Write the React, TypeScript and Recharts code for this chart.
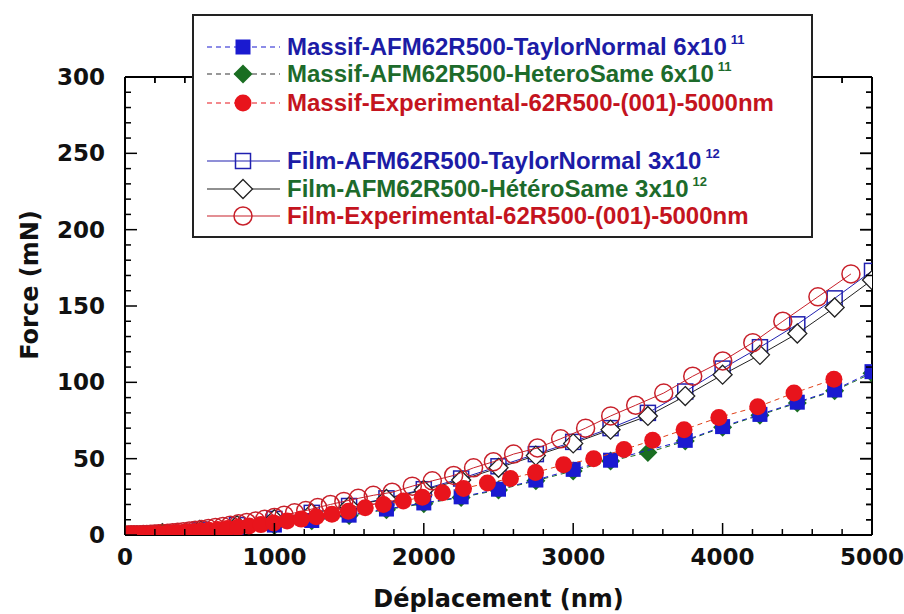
import React from 'react';
import { ScatterChart, Scatter, XAxis, YAxis, ReferenceLine } from 'recharts';

// model points, every 250 nm
const modelX = [0, 250, 500, 750, 1000, 1250, 1500, 1750, 2000, 2250, 2500, 2750, 3000, 3250, 3500, 3750, 4000, 4250, 4500, 4750, 5000];
const massifTaylorF = [0, 0.8, 2.2, 4, 6.5, 9.5, 13, 17, 21, 25, 30, 36, 43, 49, null, 62, 71, 79, 87, 95, 107];
const massifHeteroF = [0, 0.8, 2.1, 3.9, 6.3, 9.3, 12.7, 16.6, 20.5, 24.6, 29.5, 35.5, 42, 48.5, 54, 61.5, 70.5, 78.5, 86.5, 94.5, 106];
const filmTaylorF = [0, 1.2, 3.5, 6.5, 10.5, 14.5, 19, 24, 30, 37, 45, 53, 61, 70, 80, 94, 109, 123, 138, 155, 173];
const filmHeteroF = [0, 1.2, 3.4, 6.4, 10.3, 14.3, 18.7, 23.6, 29.5, 36, 44, 52, 60, 69, 78, 91, 105, 118, 132, 149, 167];

// experimental curves (dense near the origin)
const massifExpX = [0, 10, 22, 36, 52, 70, 90, 112, 136, 162, 190, 220, 253, 288, 325, 365, 408, 455, 505, 560, 620, 685, 755, 830, 910, 995, 1085, 1180, 1280, 1385, 1495, 1608, 1730, 1863, 1990, 2125, 2266, 2426, 2580, 2748, 2936, 3137, 3340, 3532, 3742, 3975, 4235, 4478, 4745];
const massifExpF = [0, 0, 0, 0, 0.1, 0.1, 0.2, 0.2, 0.3, 0.4, 0.5, 0.7, 0.8, 1.0, 1.3, 1.5, 1.8, 2.2, 2.6, 3.1, 3.6, 4.3, 5.0, 5.9, 6.8, 7.9, 9.1, 10.4, 11.9, 13.6, 15.6, 17.8, 20, 22.3, 24.8, 27.6, 30.5, 34, 37, 41, 46, 50, 56, 62, 69, 77, 84, 93, 102];
const filmExpX = [0, 23, 41, 60, 80, 101, 123, 146, 171, 197, 225, 254, 285, 318, 353, 390, 430, 470, 513, 558, 605, 655, 705, 760, 815, 875, 935, 1000, 1065, 1135, 1210, 1290, 1375, 1465, 1561, 1662, 1788, 1923, 2057, 2200, 2333, 2466, 2601, 2761, 2916, 3083, 3251, 3418, 3606, 3800, 4001, 4202, 4403, 4638, 4859];
const filmExpF = [0, 0, 0.1, 0.1, 0.2, 0.2, 0.3, 0.4, 0.5, 0.6, 0.8, 1.0, 1.2, 1.5, 1.8, 2.2, 2.6, 3.1, 3.6, 4.2, 4.9, 5.6, 6.4, 7.3, 8.2, 9.2, 10.3, 11.5, 13, 14.5, 16, 18, 20, 22, 24, 26, 28, 32, 35.5, 39, 44, 48, 53, 57, 63, 70, 78, 85, 93, 104, 114, 126, 140, 156, 171];

const xTicks = [0, 200, 400, 600, 800, 1000, 1200, 1400, 1600, 1800, 2000, 2200, 2400, 2600, 2800, 3000, 3200, 3400, 3600, 3800, 4000, 4200, 4400, 4600, 4800, 5000];
const yTicks = [0, 10, 20, 30, 40, 50, 60, 70, 80, 90, 100, 110, 120, 130, 140, 150, 160, 170, 180, 190, 200, 210, 220, 230, 240, 250, 260, 270, 280, 290, 300];

const legendLabels = [
  'Massif-AFM62R500-TaylorNormal 6x10',
  'Massif-AFM62R500-HeteroSame 6x10',
  'Massif-Experimental-62R500-(001)-5000nm',
  'Film-AFM62R500-TaylorNormal 3x10',
  'Film-AFM62R500-HétéroSame 3x10',
  'Film-Experimental-62R500-(001)-5000nm',
];
const legendSups = ['11', '11', '', '12', '12', ''];

const BLUE = '#1a1ad0';
const GREEN = '#1a6e22';
const RED = '#e8141c';
const BLUE_TXT = '#1c1ca6';
const GREEN_TXT = '#1d6b2b';
const RED_TXT = '#c4141e';

const X_MAX = 5000;
const Y_MAX = 300;

// chart layout
const W = 904;
const H = 614;
const MARGIN = { top: 76, right: 31, bottom: 29, left: 65 };
const Y_AXIS_W = 60;
const X_AXIS_H = 50;
const PLOT_W = W - MARGIN.left - MARGIN.right - Y_AXIS_W - 1;
const PLOT_H = H - MARGIN.top - MARGIN.bottom - X_AXIS_H - 1;

type Pt = { x: number; y: number };
function toPoints(xs: number[], ys: (number | null)[]): Pt[] {
  const out: Pt[] = [];
  xs.forEach((x, i) => {
    const y = ys[i];
    if (y !== null && y !== undefined) out.push({ x, y });
  });
  return out;
}

type Kind = 'square' | 'diamond' | 'circle';
function Marker({ kind, cx, cy, color, filled }: { kind: Kind; cx: number; cy: number; color: string; filled: boolean }) {
  if (kind === 'square') {
    return <rect x={cx - 7.5} y={cy - 7.5} width={15} height={15} fill={filled ? color : 'none'} stroke={color} strokeWidth={filled ? 0 : 1.5} />;
  }
  if (kind === 'diamond') {
    const r = 9.5;
    return (
      <polygon
        points={`${cx},${cy - r} ${cx + r},${cy} ${cx},${cy + r} ${cx - r},${cy}`}
        fill={filled ? color : '#fff'}
        stroke={color}
        strokeWidth={filled ? 0 : 1.3}
      />
    );
  }
  return <circle cx={cx} cy={cy} r={filled ? 8.5 : 9} fill={filled ? color : 'none'} stroke={color} strokeWidth={filled ? 0 : 1.5} />;
}

const series = [
  { key: 'filmTaylor', data: toPoints(modelX, filmTaylorF), kind: 'square' as Kind, color: '#2020b0', filled: false, line: '#2020b0', dash: undefined },
  { key: 'filmHetero', data: toPoints(modelX, filmHeteroF), kind: 'diamond' as Kind, color: '#222', filled: false, line: '#222', dash: undefined },
  { key: 'filmExp', data: toPoints(filmExpX, filmExpF), kind: 'circle' as Kind, color: '#c8202a', filled: false, line: '#c8202a', dash: undefined },
  { key: 'massifHetero', data: toPoints(modelX, massifHeteroF), kind: 'diamond' as Kind, color: GREEN, filled: true, line: GREEN, dash: '5 4' },
  { key: 'massifTaylor', data: toPoints(modelX, massifTaylorF), kind: 'square' as Kind, color: BLUE, filled: true, line: BLUE, dash: '5 4' },
  { key: 'massifExp', data: toPoints(massifExpX, massifExpF), kind: 'circle' as Kind, color: RED, filled: true, line: '#e04018', dash: '5 4' },
];

const legendSymbols = [
  { kind: 'square' as Kind, color: BLUE, filled: true, line: BLUE, dash: '5 4', text: BLUE_TXT },
  { kind: 'diamond' as Kind, color: GREEN, filled: true, line: '#333', dash: '5 4', text: GREEN_TXT },
  { kind: 'circle' as Kind, color: RED, filled: true, line: RED, dash: '5 4', text: RED_TXT },
  { kind: 'square' as Kind, color: '#2020b0', filled: false, line: '#2020b0', dash: undefined, text: BLUE_TXT },
  { kind: 'diamond' as Kind, color: '#222', filled: false, line: '#222', dash: undefined, text: GREEN_TXT },
  { kind: 'circle' as Kind, color: '#c8202a', filled: false, line: '#c8202a', dash: undefined, text: RED_TXT },
];
const legendRowTop = [31, 58, 87, 145, 173, 200];

const tickFont: React.CSSProperties = { fontFamily: '"DejaVu Sans", sans-serif', fontWeight: 'bold', fontSize: 23, fill: '#111' };
const titleFont: React.CSSProperties = { fontFamily: '"DejaVu Sans", sans-serif', fontWeight: 'bold', fontSize: 24, fill: '#111' };

// left ticks, mirrored on the right frame edge
function LeftTick({ x, y, payload }: any) {
  const major = payload.value % 50 === 0;
  const len = major ? 12 : 6;
  const xr = x + PLOT_W;
  return (
    <g>
      <line x1={x} x2={x + len} y1={y} y2={y} stroke="#000" strokeWidth={1.5} />
      <line x1={xr} x2={xr - len} y1={y} y2={y} stroke="#000" strokeWidth={1.5} />
      {major && (
        <text x={x - 20} y={y + 8} textAnchor="end" style={tickFont}>
          {payload.value}
        </text>
      )}
    </g>
  );
}

// bottom ticks, mirrored on the top frame edge
function BottomTick({ x, y, payload }: any) {
  const major = payload.value % 1000 === 0;
  const len = major ? 12 : 6;
  const yt = y - PLOT_H;
  return (
    <g>
      <line x1={x} x2={x} y1={y} y2={y - len} stroke="#000" strokeWidth={1.5} />
      <line x1={x} x2={x} y1={yt} y2={yt + len} stroke="#000" strokeWidth={1.5} />
      {major && (
        <text x={x} y={y + 30} textAnchor="middle" style={tickFont}>
          {payload.value}
        </text>
      )}
    </g>
  );
}

function Legend() {
  return (
    <div
      style={{
        position: 'absolute',
        left: 192,
        top: 14,
        width: 621,
        height: 224,
        boxSizing: 'border-box',
        border: '2px solid #222',
        background: '#fff',
      }}
    >
      {legendLabels.map((label, i) => {
        const s = legendSymbols[i];
        return (
          <div key={label} style={{ position: 'absolute', left: 0, top: legendRowTop[i] - 15, height: 30, width: 617 }}>
            <svg width={90} height={30} style={{ position: 'absolute', left: 0, top: 0 }}>
              <line x1={13} x2={86} y1={15} y2={15} stroke={s.line} strokeWidth={1.2} strokeDasharray={s.dash} />
              <Marker kind={s.kind} cx={49} cy={15} color={s.color} filled={s.filled} />
            </svg>
            <span
              style={{
                position: 'absolute',
                left: 93,
                top: 0,
                lineHeight: '30px',
                whiteSpace: 'nowrap',
                fontFamily: '"Liberation Sans", Arial, sans-serif',
                fontWeight: 'bold',
                fontSize: 24,
                color: s.text,
              }}
            >
              {label}
              {legendSups[i] && (
                <span style={{ fontSize: 13, position: 'relative', top: -11, marginLeft: 4 }}>{legendSups[i]}</span>
              )}
            </span>
          </div>
        );
      })}
    </div>
  );
}

export default function App() {
  return (
    <div style={{ position: 'absolute', left: 0, top: 0, width: W, height: H, background: '#fff' }}>
      <ScatterChart width={W} height={H} margin={MARGIN}>
        <XAxis
          dataKey="x"
          type="number"
          domain={[0, X_MAX]}
          ticks={xTicks}
          interval={0}
          height={X_AXIS_H}
          tickSize={0}
          tickMargin={0}
          tickLine={false}
          axisLine={{ stroke: '#000', strokeWidth: 2 }}
          tick={<BottomTick />}
          allowDataOverflow
          label={(p: any) => (
            <text x={p.viewBox.x + p.viewBox.width / 2} y={p.viewBox.y + p.viewBox.height + 22} textAnchor="middle" style={titleFont}>
              Déplacement (nm)
            </text>
          )}
        />
        <XAxis
          xAxisId="top"
          orientation="top"
          type="number"
          domain={[0, X_MAX]}
          height={1}
          tick={false}
          tickLine={false}
          axisLine={{ stroke: '#000', strokeWidth: 2 }}
          allowDataOverflow
        />
        <YAxis
          dataKey="y"
          type="number"
          domain={[0, Y_MAX]}
          ticks={yTicks}
          interval={0}
          width={Y_AXIS_W}
          tickSize={0}
          tickMargin={0}
          tickLine={false}
          axisLine={{ stroke: '#000', strokeWidth: 2 }}
          tick={<LeftTick />}
          allowDataOverflow
          label={(p: any) => (
            <text
              x={p.viewBox.x - 27}
              y={p.viewBox.y + p.viewBox.height / 2 - 21}
              textAnchor="middle"
              transform={`rotate(-90 ${p.viewBox.x - 27} ${p.viewBox.y + p.viewBox.height / 2 - 21})`}
              style={titleFont}
            >
              Force (mN)
            </text>
          )}
        />
        <YAxis
          yAxisId="right"
          orientation="right"
          type="number"
          domain={[0, Y_MAX]}
          width={1}
          tick={false}
          tickLine={false}
          axisLine={{ stroke: '#000', strokeWidth: 2 }}
          allowDataOverflow
        />
        {/* inward ticks on the right and top frame edges */}
        {yTicks.map((v) => (
          <ReferenceLine
            key={`rt${v}`}
            segment={[
              { x: X_MAX, y: v },
              { x: X_MAX - (v % 50 === 0 ? 80 : 40), y: v },
            ]}
            stroke="#000"
            strokeWidth={1.5}
            ifOverflow="visible"
          />
        ))}
        {xTicks.map((v) => (
          <ReferenceLine
            key={`tt${v}`}
            segment={[
              { x: v, y: Y_MAX },
              { x: v, y: Y_MAX - (v % 1000 === 0 ? 8 : 4) },
            ]}
            stroke="#000"
            strokeWidth={1.5}
            ifOverflow="visible"
          />
        ))}
        {series.map((s) => (
          <Scatter
            key={s.key}
            data={s.data}
            isAnimationActive={false}
            line={{ stroke: s.line, strokeWidth: 1, strokeDasharray: s.dash }}
            lineJointType="linear"
            shape={(p: any) => <Marker kind={s.kind} cx={p.cx} cy={p.cy} color={s.color} filled={s.filled} />}
          />
        ))}
      </ScatterChart>
      <Legend />
    </div>
  );
}
